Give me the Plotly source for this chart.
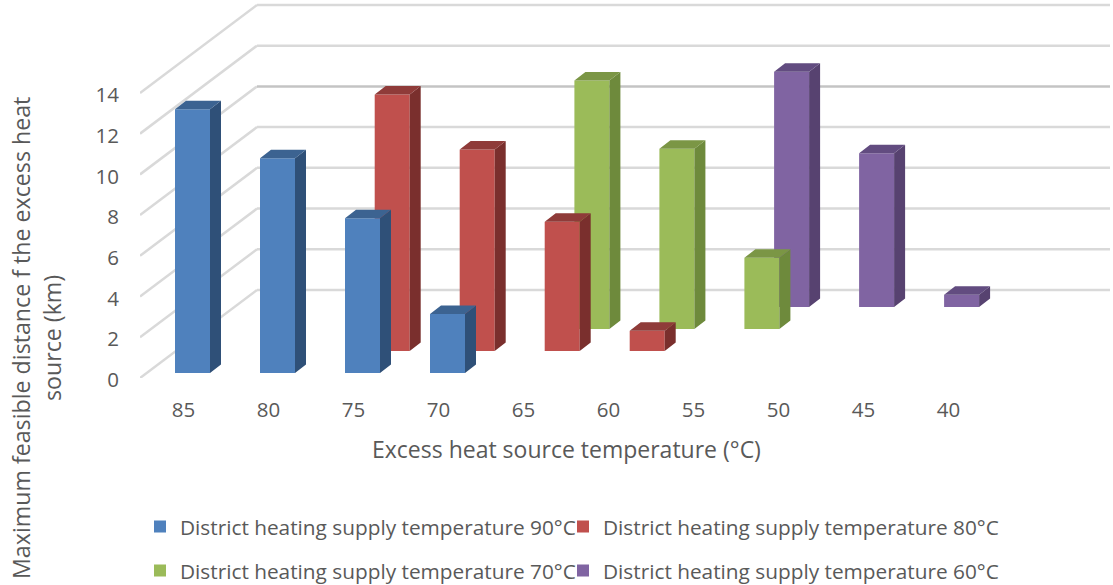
import plotly.graph_objects as go

categories = [85, 80, 75, 70, 65, 60, 55, 50, 45, 40]
series_names = [
    "District heating supply temperature 90°C",
    "District heating supply temperature 80°C",
    "District heating supply temperature 70°C",
    "District heating supply temperature 60°C",
]
values_90 = [12.95, 10.55, 7.6, 2.9, None, None, None, None, None, None]
values_80 = [None, None, 12.6, 9.9, 6.35, 1.0, None, None, None, None]
values_70 = [None, None, None, None, 12.2, 8.85, 3.5, None, None, None]
values_60 = [None, None, None, None, None, None, 11.55, 7.55, 0.6, None]
all_values = [values_90, values_80, values_70, values_60]

front_colors = ["#4F81BD", "#C0504D", "#9BBB59", "#8064A2"]
side_colors = ["#2F5078", "#7A2F2D", "#6E8A3C", "#574270"]
top_colors = ["#3C6391", "#8F3B39", "#7B9645", "#624C80"]

y_ticks = [0, 2, 4, 6, 8, 10, 12, 14]
W, H = 1113, 585
L, T_B = 140, 378           # plot left edge, plot bottom edge (px)
PX_X, PX_Y = 85.0, 20.36    # px per category, px per value unit
X0 = 192.5                  # px centre of first category, front row
xr = [(L - X0) / PX_X, (W - X0) / PX_X]
yr = [0, T_B / PX_Y]

DEPTH_X, DEPTH_Y = 29.7 / PX_X, 22.0 / PX_Y     # per row of depth
FLOOR_Y = 5.0 / PX_Y                            # gap of row 0 above the floor
HALF = 17.5 / PX_X
SIDE_X, SIDE_Y = 11.0 / PX_X, 8.5 / PX_Y

GRID_X0 = xr[0]
GRID_X1 = GRID_X0 + 117 / PX_X
GRID_X2 = (1110 - X0) / PX_X
GRID_DY = 88 / PX_Y

fig = go.Figure()

shapes = []
for v in y_ticks:
    col = "#C4C4C4" if v == 10 else "#D9D9D9"
    shapes.append(dict(type="line", layer="below", xref="x", yref="y", x0=GRID_X0, y0=v,
                       x1=GRID_X1, y1=v + GRID_DY, line=dict(color="#D9D9D9", width=2.5)))
    shapes.append(dict(type="line", layer="below", xref="x", yref="y", x0=GRID_X1, y0=v + GRID_DY,
                       x1=GRID_X2, y1=v + GRID_DY, line=dict(color=col, width=2.5)))

legends = ["legend", "legend2", "legend3", "legend4"]
# Back row first so that nearer rows cover it
for row in [3, 2, 1, 0]:
    vals = all_values[row]
    idx = [i for i, v in enumerate(vals) if v is not None]
    base = FLOOR_Y + row * DEPTH_Y
    cx = [i + row * DEPTH_X for i in idx]
    fig.add_trace(go.Bar(
        x=cx, y=[vals[i] for i in idx], base=[base] * len(idx),
        width=2 * HALF, marker=dict(color=front_colors[row], line=dict(width=0)),
        name=series_names[row], legend=legends[row],
        hoverinfo="skip",
    ))

for row in [3, 2, 1, 0]:
    vals = all_values[row]
    idx = [i for i, v in enumerate(vals) if v is not None]
    base = FLOOR_Y + row * DEPTH_Y
    sx, sy, tx, ty = [], [], [], []
    for i in idx:
        c = i + row * DEPTH_X
        t = base + vals[i]
        r = c + HALF
        l = c - HALF
        sx += [r, r + SIDE_X, r + SIDE_X, r, r, None]
        sy += [base, base + SIDE_Y, t + SIDE_Y, t, base, None]
        tx += [l, l + SIDE_X, r + SIDE_X, r, l, None]
        ty += [t, t + SIDE_Y, t + SIDE_Y, t, t, None]
    fig.add_trace(go.Scatter(x=sx, y=sy, mode="lines", fill="toself", fillcolor=side_colors[row],
                             line=dict(width=0, color=side_colors[row]), showlegend=False, hoverinfo="skip"))
    fig.add_trace(go.Scatter(x=tx, y=ty, mode="lines", fill="toself", fillcolor=top_colors[row],
                             line=dict(width=0, color=top_colors[row]), showlegend=False, hoverinfo="skip"))

FONT = "Open Sans"
TXT = "#595959"
plot_w = W - L


def px(x):
    return (x - L) / plot_w


def py(y):
    return (T_B - y) / T_B


annotations = [
    dict(text="Excess heat source temperature (°C)", xref="paper", yref="paper", x=px(566), y=py(449),
         showarrow=False, xanchor="center", yanchor="middle", font=dict(size=23, color=TXT, family=FONT)),
    dict(text="Maximum feasible distance f the excess heat", xref="paper", yref="paper", x=px(21), y=py(338),
         textangle=-90, showarrow=False, xanchor="center", yanchor="middle",
         font=dict(size=23.2, color=TXT, family=FONT)),
    dict(text="source (km)", xref="paper", yref="paper", x=px(52), y=py(338),
         textangle=-90, showarrow=False, xanchor="center", yanchor="middle",
         font=dict(size=23.2, color=TXT, family=FONT)),
]

legend_font = dict(size=20.8, color=TXT, family=FONT)
legend_common = dict(orientation="h", xanchor="left", yanchor="middle", font=legend_font,
                     bgcolor="rgba(0,0,0,0)", itemclick=False, itemdoubleclick=False)

fig.update_layout(
    width=W, height=H,
    margin=dict(l=L, r=0, t=0, b=H - T_B, autoexpand=False),
    paper_bgcolor="white", plot_bgcolor="white",
    barmode="overlay",
    showlegend=True,
    font=dict(family=FONT, color=TXT),
    legend=dict(x=px(140), y=py(527), **legend_common),
    legend2=dict(x=px(563), y=py(527), **legend_common),
    legend3=dict(x=px(140), y=py(571), **legend_common),
    legend4=dict(x=px(563), y=py(571), **legend_common),
    shapes=shapes,
    annotations=annotations,
    xaxis=dict(range=xr, tickmode="array", tickvals=[i - 9 / PX_X for i in range(len(categories))],
               ticktext=[str(c) for c in categories], showgrid=False, zeroline=False, showline=False,
               ticks="outside", ticklen=13, tickcolor="rgba(0,0,0,0)",
               tickfont=dict(size=20.5, color=TXT, family=FONT)),
    yaxis=dict(range=yr, tickmode="array", tickvals=y_ticks, showgrid=False, zeroline=False, showline=False,
               ticks="outside", ticklen=16, tickcolor="rgba(0,0,0,0)", ticklabelshift=2,
               tickfont=dict(size=20.5, color=TXT, family=FONT)),
)

fig.write_html("out.html", config={"displayModeBar": False},
               post_script="document.body.style.margin='0';document.documentElement.style.overflow='hidden';")
